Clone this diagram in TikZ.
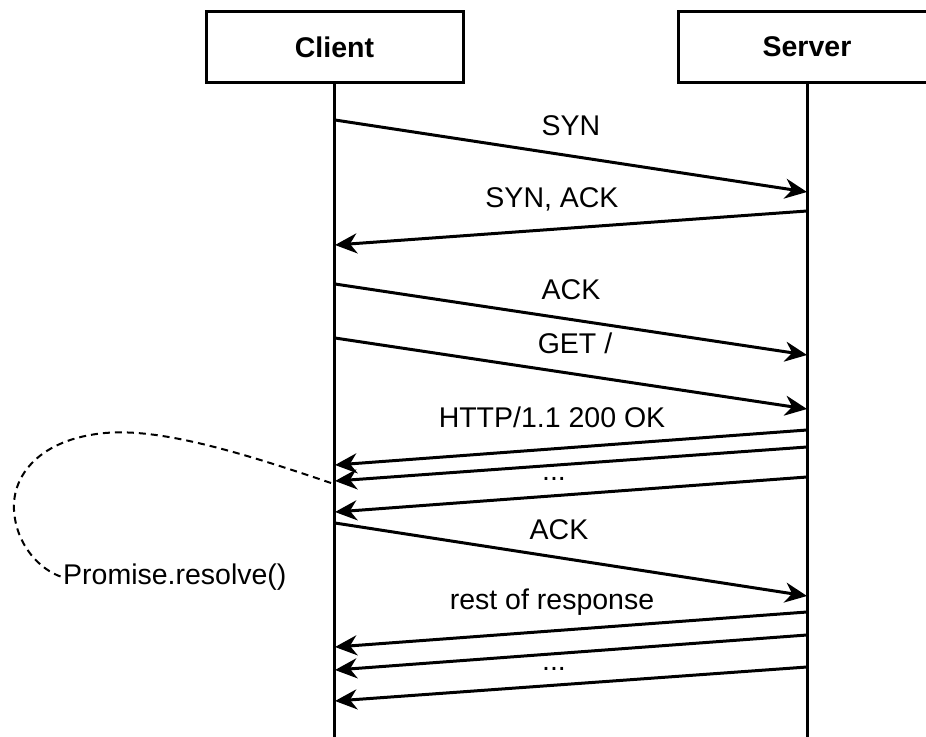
\documentclass[tikz,border=0pt]{standalone}
\usepackage{fontspec}
\setmainfont{Liberation Sans}
\usetikzlibrary{arrows.meta,positioning}

\begin{document}
\begin{tikzpicture}[
			x=1pt, y=-1pt,
			>={Stealth[length=22pt,width=20pt,inset=7pt]},
			every node/.style={font=\fontsize{28.5}{34}\selectfont},
			party/.style={draw, line width=3pt, minimum width=257pt, minimum height=71pt,
				font=\fontsize{28.5}{34}\selectfont\bfseries},
			lifeline/.style={line width=3pt},
			msg/.style={->, line width=3pt},
			lbl/.style={above=13pt, inner sep=0pt, text height=20pt, text depth=6pt},
			dots/.style={lbl, above=6.5pt, xshift=-17pt},
			back/.style={xshift=-19pt},
			callback/.style={dash pattern=on 7pt off 5pt, line width=2pt}
	]
	\clip (0,0) rectangle (926,736);

	% parties and lifelines
	\node[party] (client) at (334.5,47) {Client};
	\node[party] (server) at (807,47) {Server};
	\coordinate (bottom) at (0,745);
	\draw[lifeline] (client.south) -- (client.south |- bottom);
	\draw[lifeline] (server.south) -- (server.south |- bottom);

	% handshake
	\coordinate (c1) at (335,120); \coordinate (s1) at (807,192);
	\coordinate (s2) at (807,211); \coordinate (c2) at (335,245);
	\coordinate (c3) at (335,284); \coordinate (s3) at (807,355);
	\draw[msg] (c1) -- node[lbl] {SYN} (s1);
	\draw[msg] (s2) -- node[lbl, back] {SYN, ACK} (c2);
	\draw[msg] (c3) -- node[lbl] {ACK} (s3);

	% request and first part of response
	\coordinate (c4) at (335,338); \coordinate (s4) at (807,409);
	\coordinate (s5) at (807,430); \coordinate (c5) at (335,465);
	\coordinate (s6) at (807,447); \coordinate (c6) at (335,481);
	\coordinate (s7) at (807,477); \coordinate (c7) at (335,512);
	\draw[msg] (c4) -- node[lbl, xshift=4pt] {GET /} (s4);
	\draw[msg] (s5) -- node[lbl, back] {HTTP/1.1 200 OK} (c5);
	\draw[msg] (s6) -- (c6);
	\draw[msg] (s7) -- node[dots] {...} (c7);

	% ack and rest of response
	\coordinate (c8) at (335,523); \coordinate (s8) at (807,596);
	\coordinate (s9) at (807,612); \coordinate (c9) at (335,647);
	\coordinate (s10) at (807,635); \coordinate (c10) at (335,670);
	\coordinate (s11) at (807,667); \coordinate (c11) at (335,701);
	\draw[msg] (c8) -- node[lbl, xshift=-12pt] {ACK} (s8);
	\draw[msg] (s9) -- node[lbl, back] {rest of response} (c9);
	\draw[msg] (s10) -- (c10);
	\draw[msg] (s11) -- node[dots] {...} (c11);

	% promise callback
	\node[anchor=west, inner sep=1pt] (promise) at (62,577) {Promise.resolve()};
	\coordinate (cb) at (331,483);
	\draw[callback] (cb) .. controls (240,452) and (160,428) .. (105,433)
		.. controls (40,439) and (12,475) .. (14,510)
		.. controls (16,545) and (40,570) .. (promise.west);
\end{tikzpicture}
\end{document}
